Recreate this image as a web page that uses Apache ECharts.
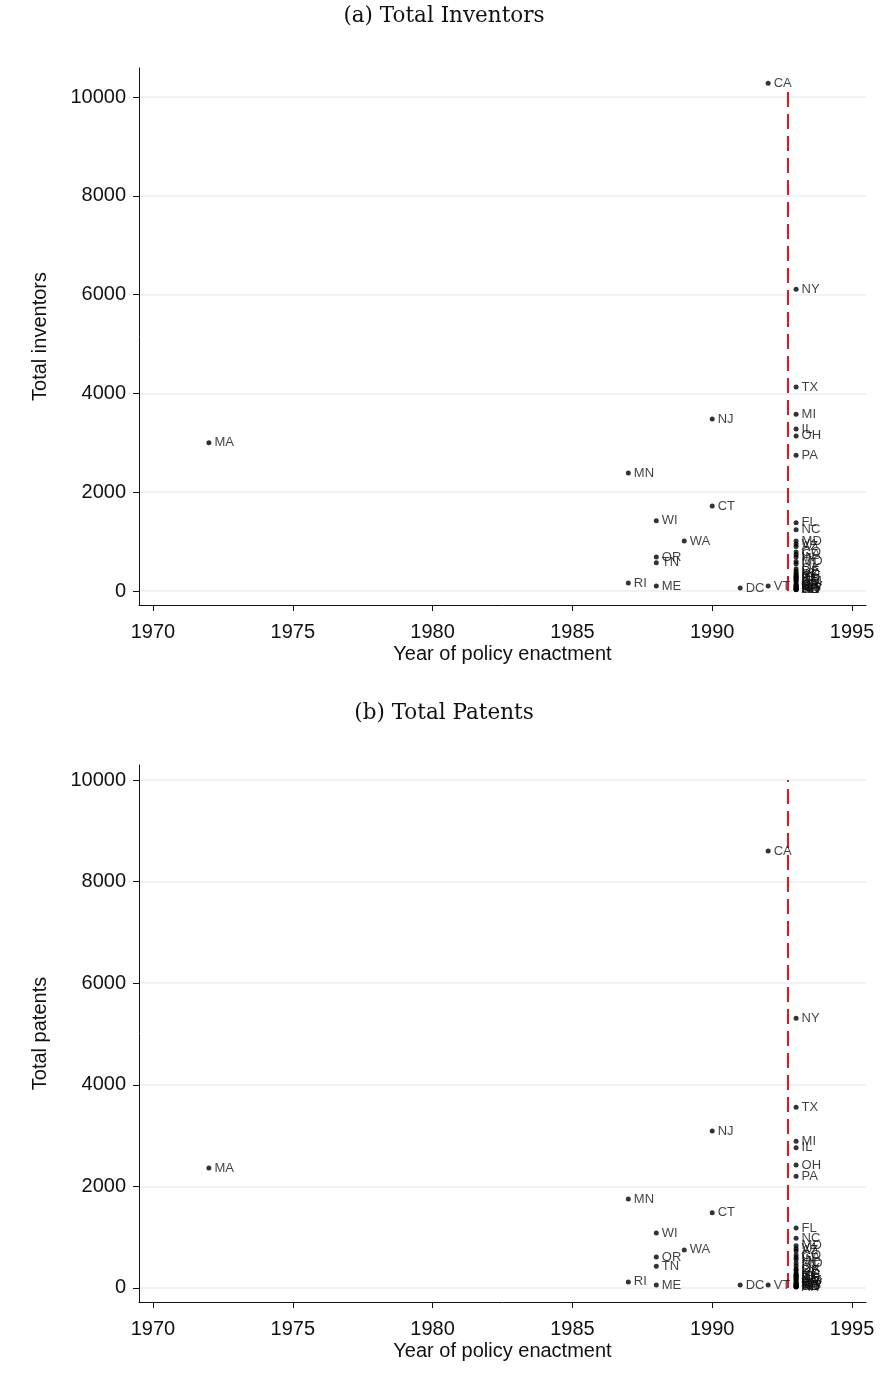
<!DOCTYPE html>
<html><head><meta charset="utf-8">
<script src="https://cdn.jsdelivr.net/npm/echarts@6/dist/echarts.min.js"></script>
<style>html,body{margin:0;padding:0;background:#fff}#c{width:888px;height:1391px}</style>
</head><body><div id="c"></div>
<script>
const states = ['CA','NY','TX','MI','IL','OH','PA','NJ','MA','MN','CT','WI','WA','OR','TN','RI','ME','DC','VT',
  'FL','NC','MD','VA','AZ','CO','GA','IN','MO','UT','OK','DE','KY','SC','IA','NH','ID','KS','LA','AL','NM','NE','AR','NV','WV','MS','HI','MT','SD','ND','WY','AK'];
const years = [1992,1993,1993,1993,1993,1993,1993,1990,1972,1987,1990,1988,1989,1988,1988,1987,1988,1991,1992,
  1993,1993,1993,1993,1993,1993,1993,1993,1993,1993,1993,1993,1993,1993,1993,1993,1993,1993,1993,1993,1993,1993,1993,1993,1993,1993,1993,1993,1993,1993,1993,1993];
const inventors = [10280,6110,4130,3580,3280,3140,2750,3480,3000,2390,1720,1420,1010,690,570,160,100,60,100,
  1380,1240,1010,950,900,790,740,690,600,550,450,400,360,330,300,290,270,250,230,210,190,140,120,110,90,80,55,60,40,35,30,25];
const patents = [8600,5310,3560,2890,2760,2420,2200,3090,2360,1750,1480,1080,750,610,430,120,60,60,60,
  1180,980,830,770,730,650,600,560,490,440,380,350,300,270,250,240,230,210,190,170,150,120,100,90,80,60,45,50,30,30,25,20];
const xTicks = [1970,1975,1980,1985,1990,1995];
const yTicks = [0,2000,4000,6000,8000,10000];
const refYear = 1992.71;
const refTopA = 10100, refTopB = 10000;
const titles = ['(a) Total Inventors','(b) Total Patents'];
const yNames = ['Total inventors','Total patents'];
const xName = 'Year of policy enactment';

const sans = 'Liberation Sans, Arial, sans-serif';
function pts(vals){ return states.map((s,i)=>[years[i], vals[i], s]); }
function xAxis(idx){
  return {gridIndex:idx, type:'value', min:1969.5, max:1995.5,
    name:xName, nameLocation:'middle', nameGap:39,
    nameTextStyle:{fontFamily:sans, fontSize:20, color:'#111'},
    axisLine:{show:true, onZero:false, lineStyle:{color:'#111', width:1}},
    axisTick:{show:true, customValues:xTicks, length:6, lineStyle:{color:'#111'}},
    axisLabel:{customValues:xTicks, fontFamily:sans, fontSize:20, color:'#111', margin:17, formatter:v=>String(v)},
    splitLine:{show:false}};
}
function yAxis(idx, min, max){
  return {gridIndex:idx, type:'value', min:min, max:max,
    name:yNames[idx], nameLocation:'middle', nameGap:89,
    nameTextStyle:{fontFamily:sans, fontSize:20, color:'#111'},
    axisLine:{show:true, onZero:false, lineStyle:{color:'#111', width:1}},
    axisTick:{show:true, customValues:yTicks, length:6, lineStyle:{color:'#111'}},
    axisLabel:{customValues:yTicks, fontFamily:sans, fontSize:20, color:'#111', margin:13, formatter:v=>String(v)},
    splitLine:{show:true, lineStyle:{color:'#e9eff3', width:1.5}}};
}
function scatter(idx, vals){
  return {type:'scatter', xAxisIndex:idx, yAxisIndex:idx, data:pts(vals), symbolSize:5,
    itemStyle:{color:'#000'}, z:3,
    label:{show:true, position:'right', distance:3, formatter:p=>p.data[2],
      fontFamily:sans, fontSize:13, color:'#111'}};
}
function ref(idx, top){
  return {type:'line', xAxisIndex:idx, yAxisIndex:idx, data:[[refYear,0],[refYear,top]], symbol:'none',
    lineStyle:{color:'#e8131b', width:2, type:[15,7]}, z:2};
}
const chart = echarts.init(document.getElementById('c'), null, {renderer:'canvas'});
chart.setOption({
  backgroundColor:'#fff', animation:false,
  title:[
    {text:titles[0], left:'center', top:0, textStyle:{fontFamily:'DejaVu Serif, serif', fontSize:21.5, fontWeight:'normal', color:'#111'}},
    {text:titles[1], left:'center', top:697, textStyle:{fontFamily:'DejaVu Serif, serif', fontSize:21.5, fontWeight:'normal', color:'#111'}}
  ],
  grid:[
    {left:139, right:22, top:68, height:537},
    {left:139, right:22, top:765, height:537}
  ],
  xAxis:[xAxis(0), xAxis(1)],
  yAxis:[yAxis(0,-283,10587), yAxis(1,-276,10295)],
  series:[ref(0,refTopA), scatter(0,inventors), ref(1,refTopB), scatter(1,patents)]
});
</script></body></html>
